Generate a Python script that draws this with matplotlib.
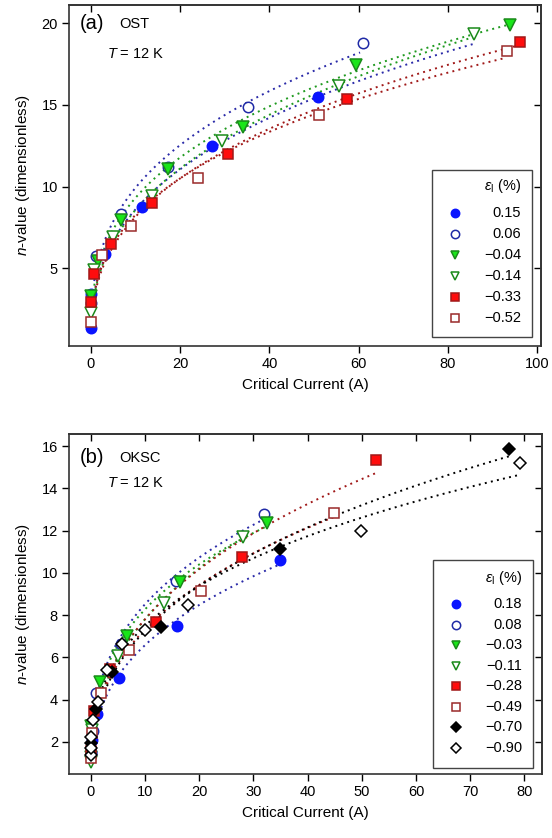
import numpy as np
import matplotlib
matplotlib.use("Agg")
import matplotlib.pyplot as plt
from matplotlib.patches import Rectangle

plt.rcParams['font.family'] = ['Liberation Sans', 'DejaVu Sans']
plt.rcParams['mathtext.fontset'] = 'custom'
plt.rcParams['mathtext.rm'] = 'Liberation Sans'
plt.rcParams['mathtext.it'] = 'Liberation Sans:italic'

# ---------------- Panel (a) OST ----------------
a_labels = ["0.15", "0.06", "\u22120.04", "\u22120.14", "\u22120.33", "\u22120.52"]
a_x = [
    [0.0, 0.0, 3.2, 11.6, 27.1, 51.0],
    [0.0, 1.3, 6.7, 17.2, 35.3, 60.9],
    [0.0, 1.7, 6.7, 17.2, 34.0, 59.4, 93.8],
    [0.0, 0.75, 5.0, 13.8, 29.5, 55.7, 85.9],
    [0.0, 0.75, 4.55, 13.8, 30.7, 57.3, 96.0],
    [0.0, 2.45, 9.0, 24.0, 51.1, 93.2],
]
a_y = [
    [1.35, 3.45, 5.85, 8.76, 12.5, 15.5],
    [2.85, 5.75, 8.3, 11.2, 14.9, 18.8],
    [3.3, 5.45, 7.96, 11.07, 13.67, 17.45, 19.9],
    [2.25, 4.9, 6.9, 9.43, 12.76, 16.17, 19.33],
    [2.96, 4.65, 6.49, 8.98, 11.98, 15.35, 18.88],
    [1.73, 5.8, 7.59, 10.55, 14.39, 18.27],
]
a_fit_range = [(0.8, 85.6), (0.8, 60.3), (0.8, 94.0), (0.8, 86.0), (0.8, 96.0), (0.8, 93.0)]

# ---------------- Panel (b) OKSC ----------------
b_labels = ["0.18", "0.08", "\u22120.03", "\u22120.11", "\u22120.28", "\u22120.49", "\u22120.70", "\u22120.90"]
b_x = [
    [0.0, 0.3, 1.2, 5.2, 15.9, 35.0],
    [0.0, 0.4, 1.0, 5.6, 15.7, 32.0],
    [0.0, 0.1, 1.7, 6.75, 16.5, 32.5],
    [0.0, 0.3, 5.0, 13.6, 28.0],
    [0.0, 0.7, 3.6, 12.0, 27.9, 52.6],
    [0.0, 0.2, 1.95, 7.1, 20.35, 44.8],
    [0.0, 1.0, 4.0, 12.9, 34.9, 77.2],
    [0.0, 0.0, 0.0, 0.4, 1.35, 3.0, 5.7, 10.0, 17.9, 49.9, 79.1],
]
b_y = [
    [1.5, 2.1, 3.3, 5.0, 7.5, 10.6],
    [1.45, 2.5, 4.33, 6.65, 9.6, 12.8],
    [1.3, 2.75, 4.85, 7.03, 9.56, 12.38],
    [1.06, 2.55, 6.08, 8.59, 11.72],
    [1.55, 3.45, 5.43, 7.66, 10.77, 15.36],
    [1.25, 2.4, 4.3, 6.35, 9.16, 12.83],
    [1.95, 3.55, 5.32, 7.45, 11.12, 15.88],
    [1.37, 1.69, 2.24, 3.03, 3.9, 5.4, 6.64, 7.27, 8.5, 11.99, 15.2],
]
b_fit_range = [(0.5, 35.0), (0.5, 32.0), (0.5, 32.5), (0.5, 28.0), (0.5, 52.6), (0.5, 44.8), (0.5, 77.2), (0.5, 79.1)]

# styles: (marker, facecolor, edgecolor, line colour)
BLUE_F = ('o', '#0a14ff', '#0a14ff', '#2a2aa8')
BLUE_O = ('o', 'white', '#1f2aa6', '#2a2aa8')
GREEN_F = ('v', '#19e619', '#1a8a1a', '#1f9a1f')
GREEN_O = ('v', 'white', '#1a8a1a', '#1f9a1f')
RED_F = ('s', '#ff0d0d', '#a01818', '#a01818')
RED_O = ('s', 'white', '#9a2a2a', '#a01818')
BLK_F = ('D', 'black', 'black', 'black')
BLK_O = ('D', 'white', 'black', 'black')
a_styles = [BLUE_F, BLUE_O, GREEN_F, GREEN_O, RED_F, RED_O]
b_styles = [BLUE_F, BLUE_O, GREEN_F, GREEN_O, RED_F, RED_O, BLK_F, BLK_O]

MS = {'o': 7.5, 'v': 8.0, 's': 7.0, 'D': 6.5}

fig = plt.figure(figsize=(5.52, 8.38), dpi=100)
ax_a = fig.add_axes([0.125, 0.5875, 0.855, 0.4066])
ax_b = fig.add_axes([0.125, 0.076, 0.8565, 0.406])


def power_fit(xs, ys, lo):
    # least squares of n = a * Ic^b, weighted towards absolute (linear) residuals
    xs = np.asarray(xs, float)
    ys = np.asarray(ys, float)
    m = xs >= lo
    lx, ly = np.log(xs[m]), np.log(ys[m])
    b, la = np.polyfit(lx, ly, 1, w=ys[m])
    return np.exp(la), b


def draw_panel(ax, xs_list, ys_list, styles, fit_ranges):
    for xs, ys, st, fr in zip(xs_list, ys_list, styles, fit_ranges):
        a, b = power_fit(xs, ys, fr[0])
        xx = np.linspace(fr[0], fr[1], 200)
        ax.plot(xx, a * xx ** b, linestyle=(0, (1, 2.2)), color=st[3], lw=1.4, zorder=1)
    for xs, ys, st, fr in zip(xs_list, ys_list, styles, fit_ranges):
        ax.plot(xs, ys, linestyle='none', marker=st[0], ms=MS[st[0]],
                mfc=st[1], mec=st[2], mew=1.1, zorder=3)


def style_axes(ax):
    for s in ax.spines.values():
        s.set_linewidth(1.2)
        s.set_color('#333333')
    ax.tick_params(axis='both', which='major', direction='out', length=5, width=1.0,
                   labelsize=10.5, top=False, right=False, pad=3)
    sec_x = ax.secondary_xaxis('top')
    sec_x.tick_params(direction='in', length=5, width=1.0, labeltop=False)
    sec_x.set_xticks(ax.get_xticks())
    sec_x.set_xticklabels([])
    sec_y = ax.secondary_yaxis('right')
    sec_y.tick_params(direction='in', length=5, width=1.0, labelright=False)
    sec_y.set_yticks(ax.get_yticks())
    sec_y.set_yticklabels([])
    for s in list(sec_x.spines.values()) + list(sec_y.spines.values()):
        s.set_linewidth(1.2)
        s.set_color('#333333')


def draw_legend(ax, labels, styles, box, title_y, row0, dy, mx, tx):
    x0, y0, x1, y1 = box
    ax.add_patch(Rectangle((x0, y0), x1 - x0, y1 - y0, transform=ax.transAxes,
                           fill=True, facecolor='white', edgecolor='#444444', lw=1.0, zorder=5))
    ax.text(tx, title_y, r'$ε_{\mathrm{l}}$ (%)', transform=ax.transAxes,
            ha='right', va='center', fontsize=10.5, zorder=6)
    for i, (lab, st) in enumerate(zip(labels, styles)):
        y = row0 - i * dy
        ax.plot([mx], [y], transform=ax.transAxes, linestyle='none', marker=st[0],
                ms=MS[st[0]] * 0.8, mfc=st[1], mec=st[2], mew=1.1, zorder=6, clip_on=False)
        ax.text(tx, y, lab, transform=ax.transAxes, ha='right', va='center',
                fontsize=10.5, zorder=6)


# Panel (a)
draw_panel(ax_a, a_x, a_y, a_styles, a_fit_range)
ax_a.set_xlim(-4.85, 100.8)
ax_a.set_ylim(0.26, 21.12)
ax_a.set_xticks([0, 20, 40, 60, 80, 100])
ax_a.set_yticks([5, 10, 15, 20])
style_axes(ax_a)
ax_a.set_xlabel('Critical Current (A)', fontsize=11, labelpad=5)
ax_a.set_ylabel(r'$n$-value (dimensionless)', fontsize=11, labelpad=7)
ax_a.text(0.022, 0.945, '(a)', transform=ax_a.transAxes, fontsize=14.5, va='center', ha='left')
ax_a.text(0.107, 0.945, 'OST', transform=ax_a.transAxes, fontsize=10.5, va='center', ha='left')
ax_a.text(0.08, 0.855, r'$T$ = 12 K', transform=ax_a.transAxes, fontsize=10.5, va='center', ha='left')
draw_legend(ax_a, a_labels, a_styles, (0.769, 0.026, 0.981, 0.516),
            0.469, 0.389, 0.0616, 0.818, 0.958)

# Panel (b)
draw_panel(ax_b, b_x, b_y, b_styles, b_fit_range)
ax_b.set_xlim(-4.0, 83.2)
ax_b.set_ylim(0.46, 16.57)
ax_b.set_xticks([0, 10, 20, 30, 40, 50, 60, 70, 80])
ax_b.set_yticks([2, 4, 6, 8, 10, 12, 14, 16])
style_axes(ax_b)
ax_b.set_xlabel('Critical Current (A)', fontsize=11, labelpad=5)
ax_b.set_ylabel(r'$n$-value (dimensionless)', fontsize=11, labelpad=7)
ax_b.text(0.022, 0.93, '(b)', transform=ax_b.transAxes, fontsize=14.5, va='center', ha='left')
ax_b.text(0.107, 0.93, 'OKSC', transform=ax_b.transAxes, fontsize=10.5, va='center', ha='left')
ax_b.text(0.08, 0.855, r'$T$ = 12 K', transform=ax_b.transAxes, fontsize=10.5, va='center', ha='left')
draw_legend(ax_b, b_labels, b_styles, (0.769, 0.0185, 0.981, 0.630),
            0.577, 0.500, 0.0602, 0.818, 0.958)

fig.savefig('out.png', dpi=100)
